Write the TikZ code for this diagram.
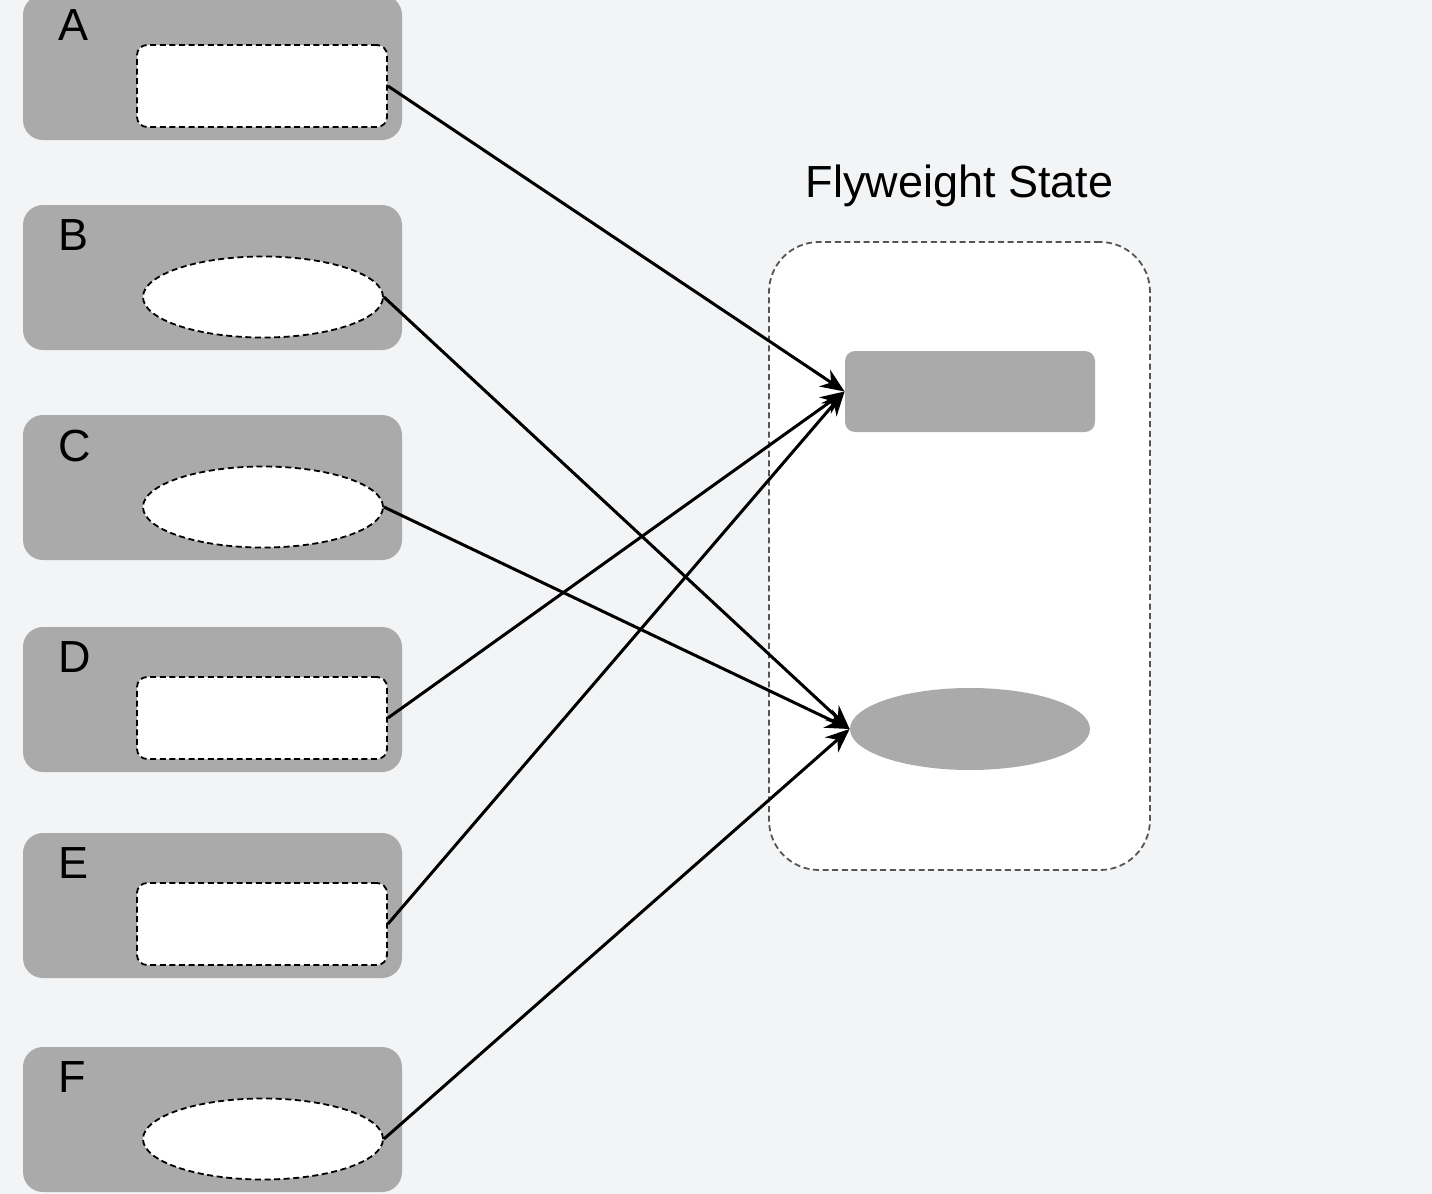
\documentclass[tikz,border=0pt]{standalone}
\usepackage{fontspec}
\setmainfont{Liberation Sans}
\usetikzlibrary{positioning,arrows.meta,shapes.geometric}

\definecolor{bgcol}{HTML}{F3F4F6}
\definecolor{boxgray}{HTML}{AAAAAA}
\definecolor{dashgray}{HTML}{555555}

\tikzset{
  holder/.style={draw=none,fill=boxgray,rounded corners=10pt,minimum width=189.5pt,minimum height=72.5pt},
  slotrect/.style={draw=black,fill=white,line width=0.9pt,dash pattern=on 3pt off 1.8pt,rounded corners=5pt,minimum width=125pt,minimum height=41pt,inner sep=0pt},
  slotoval/.style={ellipse,draw=black,fill=white,line width=0.9pt,dash pattern=on 3pt off 1.8pt,minimum width=120pt,minimum height=40.5pt,inner sep=0pt},
  statebox/.style={draw=dashgray,fill=white,line width=0.9pt,dash pattern=on 3pt off 1.8pt,rounded corners=25pt,minimum width=190.5pt,minimum height=314pt},
  flyrect/.style={fill=boxgray,rounded corners=5pt,minimum width=125pt,minimum height=40.5pt,inner sep=0pt},
  flyoval/.style={ellipse,fill=boxgray,minimum width=120pt,minimum height=41pt,inner sep=0pt},
  lbl/.style={inner sep=0pt,font=\fontsize{22.5pt}{27pt}\selectfont},
  link/.style={-{Stealth[length=12pt,width=10pt]},line width=1.5pt}
}

\begin{document}
\begin{tikzpicture}[x=0.5pt,y=-0.5pt]
\fill[bgcol] (0,0) rectangle (1432,1194);
\useasboundingbox (0,0) rectangle (1432,1194);

% client objects
\node[holder] (a) at (212.5,67.5) {};
\node[lbl,below right=7.5pt and 17.5pt of a.north west] (alabel) {A};
\node[slotrect] (aslot) at (262,86) {};

\node[holder] (b) at (212.5,277.5) {};
\node[lbl,below right=7.5pt and 17.5pt of b.north west] (blabel) {B};
\node[slotoval] (bslot) at (263,297) {};

\node[holder] (c) at (212.5,487.5) {};
\node[lbl,below right=7.5pt and 17.5pt of c.north west] (clabel) {C};
\node[slotoval] (cslot) at (263,507) {};

\node[holder] (d) at (212.5,699.5) {};
\node[lbl,below right=7.5pt and 17.5pt of d.north west] (dlabel) {D};
\node[slotrect] (dslot) at (262,718) {};

\node[holder] (e) at (212.5,905.5) {};
\node[lbl,below right=7.5pt and 17.5pt of e.north west] (elabel) {E};
\node[slotrect] (eslot) at (262,924) {};

\node[holder] (f) at (212.5,1119.5) {};
\node[lbl,below right=7.5pt and 17.5pt of f.north west] (flabel) {F};
\node[slotoval] (fslot) at (263,1139) {};

% shared state
\node[statebox] (state) at (959.5,556) {};
\node[lbl,above=22pt of state.north,anchor=base] (title) {Flyweight State};
\node[flyrect] (fr) at (970,391.5) {};
\node[flyoval] (fo) at (970,729) {};

% references
\draw[link] (aslot.east) -- (fr.west);
\draw[link] (bslot.east) -- (fo.west);
\draw[link] (cslot.east) -- (fo.west);
\draw[link] (dslot.east) -- (fr.west);
\draw[link] (eslot.east) -- (fr.west);
\draw[link] (fslot.east) -- (fo.west);

\end{tikzpicture}
\end{document}
